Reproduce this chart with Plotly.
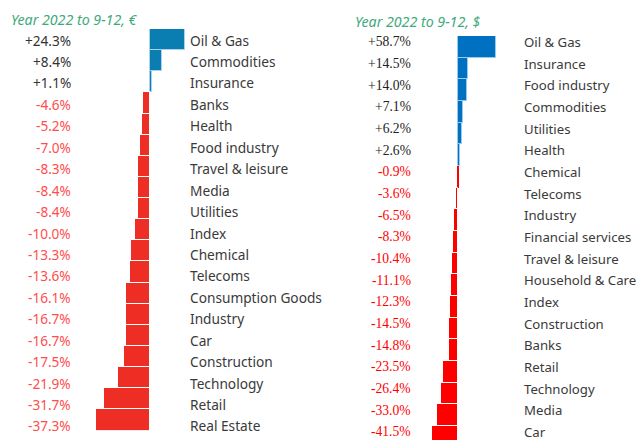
import plotly.graph_objects as go

# ---- data ----
eur_categories = ["Oil & Gas", "Commodities", "Insurance", "Banks", "Health", "Food industry",
                  "Travel & leisure", "Media", "Utilities", "Index", "Chemical", "Telecoms",
                  "Consumption Goods", "Industry", "Car", "Construction", "Technology", "Retail",
                  "Real Estate"]
eur_values = [24.3, 8.4, 1.1, -4.6, -5.2, -7.0, -8.3, -8.4, -8.4, -10.0, -13.3, -13.6,
              -16.1, -16.7, -16.7, -17.5, -21.9, -31.7, -37.3]

usd_categories = ["Oil & Gas", "Insurance", "Food industry", "Commodities", "Utilities", "Health",
                  "Chemical", "Telecoms", "Industry", "Financial services", "Travel & leisure",
                  "Household & Care", "Index", "Construction", "Banks", "Retail", "Technology",
                  "Media", "Car"]
usd_values = [58.7, 14.5, 14.0, 7.1, 6.2, 2.6, -0.9, -3.6, -6.5, -8.3, -10.4, -11.1, -12.3,
              -14.5, -14.8, -23.5, -26.4, -33.0, -41.5]

titles = ["Year 2022 to 9-12, €", "Year 2022 to 9-12, $"]

W, H = 640, 440

fig = go.Figure()

# left panel bars
fig.add_trace(go.Bar(
    x=eur_values, y=eur_categories, orientation="h",
    xaxis="x", yaxis="y", width=1.0,
    marker=dict(color=["#0a7eb1" if v >= 0 else "#ee2e24" for v in eur_values],
                line=dict(color=["#a9d3ea" if v >= 0 else "#ffffff" for v in eur_values], width=1)),
    hoverinfo="skip", showlegend=False))

# right panel bars
fig.add_trace(go.Bar(
    x=usd_values, y=usd_categories, orientation="h",
    xaxis="x2", yaxis="y2", width=1.0,
    marker=dict(color=["#0070c0" if v >= 0 else "#ff0000" for v in usd_values],
                line=dict(color=["#9cc8ec" if v >= 0 else "#ffffff" for v in usd_values],
                          width=[1 if abs(v) > 2 else 0 for v in usd_values])),
    hoverinfo="skip", showlegend=False))

# invisible trace registering the left text rows (text spacing differs slightly from bar spacing)
fig.add_trace(go.Scatter(
    x=[0] * len(eur_categories), y=eur_categories, mode="markers",
    marker=dict(opacity=0, size=1), xaxis="x3", yaxis="y3",
    hoverinfo="skip", showlegend=False))

annotations = []
left_font = "Noto Sans"
for c, v in zip(eur_categories, eur_values):
    annotations.append(dict(xref="paper", yref="y3", x=73 / W, y=c, xanchor="right", yanchor="middle",
                            text=f"{v:+.1f}%", showarrow=False,
                            font=dict(family=left_font, size=13.6,
                                      color="#333333" if v >= 0 else "#ff4d4d")))
    annotations.append(dict(xref="paper", yref="y3", x=188 / W, y=c, xanchor="left", yanchor="middle",
                            text=c, showarrow=False,
                            font=dict(family=left_font, size=13.7, color="#3a3a3a")))
for c, v in zip(usd_categories, usd_values):
    annotations.append(dict(xref="paper", yref="y2", x=413 / W, y=c, xanchor="right", yanchor="middle",
                            text=f"{v:+.1f}%", showarrow=False, yshift=5,
                            font=dict(family="Liberation Sans Narrow", size=13.6,
                                      color="#222222" if v >= 0 else "#ff0000")))
    annotations.append(dict(xref="paper", yref="y2", x=522 / W, y=c, xanchor="left", yanchor="middle",
                            text=c, showarrow=False, yshift=5,
                            font=dict(family=left_font, size=13.2, color="#3a3a3a")))

annotations.append(dict(xref="paper", yref="paper", x=9 / W, y=1 - 20 / H, xanchor="left", yanchor="middle",
                        text=f"<i>{titles[0]}</i>", showarrow=False,
                        font=dict(family=left_font, size=14.2, color="#3ea97c")))
annotations.append(dict(xref="paper", yref="paper", x=353 / W, y=1 - 21 / H, xanchor="left", yanchor="middle",
                        text=f"<i>{titles[1]}</i>", showarrow=False,
                        font=dict(family=left_font, size=14.2, color="#3ea97c")))

hidden = dict(showgrid=False, zeroline=False, showticklabels=False, ticks="", showline=False)

fig.update_layout(
    width=W, height=H,
    margin=dict(l=0, r=0, t=0, b=0),
    paper_bgcolor="white", plot_bgcolor="rgba(0,0,0,0)",
    bargap=0,
    xaxis=dict(domain=[90 / W, 190 / W], range=[-60 / 1.46, 40 / 1.46], anchor="y", **hidden),
    yaxis=dict(domain=[(H - 430.5) / H, (H - 29) / H], range=[18.5, -0.5], anchor="x",
               type="category", **hidden),
    xaxis2=dict(domain=[420 / W, 510 / W], range=[-38.3 / 0.64, 51.7 / 0.64], anchor="y2", **hidden),
    yaxis2=dict(domain=[0, (H - 36) / H], range=[18.14, -0.5], anchor="x2",
                type="category", **hidden),
    xaxis3=dict(domain=[0, 0.01], range=[1, 2], anchor="y3", **hidden),
    yaxis3=dict(domain=[(H - 436.7) / H, (H - 29.3) / H], range=[18.5, -0.5], anchor="x3",
                type="category", **hidden),
    annotations=annotations,
)

fig.write_html("out.html", config={"displayModeBar": False},
               post_script="document.body.style.margin='0px';document.body.style.overflow='hidden';")
